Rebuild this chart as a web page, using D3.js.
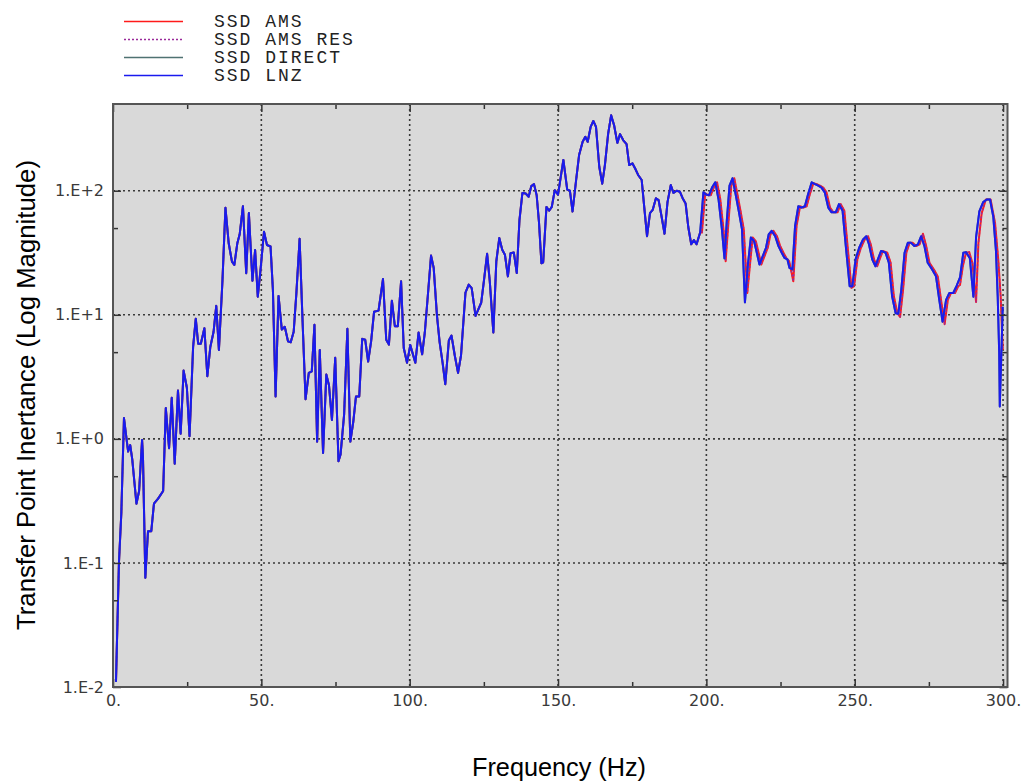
<!DOCTYPE html>
<html>
<head>
<meta charset="utf-8">
<script src="https://cdn.jsdelivr.net/npm/d3@7/dist/d3.min.js"></script>
<style>
  html, body { margin: 0; padding: 0; background: #ffffff; }
  svg { display: block; }
</style>
</head>
<body>
<svg id="chart" width="1026" height="783"></svg>
<script>
// ---------------- DATA ----------------
// Shared portion (all four solutions coincide below ~198 Hz)
const lowFreq = [1,2,2.8,3.7,5.1,5.8,6.5,7.9,8.8,9.8,10.1,10.9,11.8,12.9,13.8,15.2,16.9,17.8,18.9,19.8,20.8,21.9,22.8,23.8,24.9,25.8,27.0,27.9,28.7,29.6,30.8,31.8,32.8,33.9,34.8,35.7,36.9,37.9,39.0,40.1,40.9,41.9,42.7,43.8,44.9,45.8,47.0,47.9,48.8,49.7,50.9,51.9,53.1,53.9,54.8,55.8,56.9,57.9,59.0,59.9,60.9,61.8,62.9,63.8,64.9,66.0,67.0,67.9,68.8,69.7,70.8,71.9,72.8,73.8,74.9,76.0,76.7,77.9,79.0,80.0,81.0,81.9,83.0,84.0,85.0,86.0,87.0,88.0,89.5,91.0,92.1,93.0,94.0,95.0,96.0,97.1,98.0,99.1,100.2,101.9,103.0,104.2,105.1,106.1,107.2,108.1,109.2,110.1,111.1,112.0,113.2,114.1,115.2,116.3,117.3,118.8,119.9,120.9,122.2,123.1,124.1,125.0,126.1,127.0,128.2,129.2,130.2,131.2,132.1,133.1,134.0,135.1,136.1,137.0,138.0,139.1,140.1,141.0,141.9,142.8,143.6,144.4,145.0,146.1,147.0,147.9,148.9,150.0,151.8,153.1,154.0,154.9,156.1,157.1,158.3,159.2,160.0,161.0,161.9,162.8,163.9,164.9,165.8,166.9,167.9,168.9,170.0,170.9,172.0,173.1,174.0,175.1,176.0,177.0,178.2,179.1,180.0,181.0,181.9,183.0,183.9,184.9,185.9,186.9,188.0,188.9,190.0,191.1,192.0,193.0,193.9,194.9,195.8,196.7,197.9];
const lowMag = [0.011,0.1,0.25,1.47,0.79,0.89,0.68,0.30,0.38,0.98,0.72,0.076,0.18,0.18,0.30,0.33,0.38,1.77,0.84,2.14,0.63,2.45,1.10,3.55,2.58,1.05,5.5,9.3,5.85,5.85,7.8,3.2,5.5,7.3,11.8,5.2,19,73,37.7,26.8,25.2,37.7,44.5,75,21.6,66,18.8,33.3,14,22.7,46.8,36.5,35.5,15.8,2.2,14.2,7.6,8.0,6.1,6.0,7.3,14.8,41,10.2,2.09,3.4,3.5,8.3,0.95,5.2,0.77,3.3,2.7,1.42,4.5,0.66,0.75,1.57,7.7,0.95,1.38,2.2,2.2,6.4,6.3,4.2,6.1,10.6,10.8,19.4,6.3,5.75,13,8.1,8.1,18.6,5.4,4.1,5.7,4.1,7.2,4.8,7.2,14.1,30,23.8,9.8,6,4.1,2.76,6.2,6.8,4.7,3.4,4.7,15.1,17.5,16.4,9.8,11,12.5,18.6,31,18.6,7.2,27,41.5,33.4,30.5,20.4,31.4,31.8,21.7,58,96,95,89.5,109,113,92,55,26,26.5,74,69,74,101,93,177,102,100,68,122,194,248,272,248,327,365,327,156,114,161,289,405,337,243,286,255,237,161,166,151,134,122,72,43,66,70,87,84,62,45,81,111,96,100,98,87,79,51,37,40,37,46];

// SSD LNZ / SSD DIRECT above 198 Hz
const lnzTailFreq = [199.0,200.0,200.9,201.9,203.0,204.1,205.2,206.1,206.9,207.8,208.8,209.7,210.9,212.0,213.0,214.0,215.0,216.1,217.0,217.9,219.0,220.1,221.0,222.0,223.2,224.3,225.4,226.3,227.3,228.0,229.0,229.9,231.0,232.1,233.2,234.3,235.5,236.6,237.7,238.8,239.9,241.1,242.2,243.6,244.7,245.9,247.0,248.3,249.2,250.3,251.5,252.8,253.9,254.8,255.9,257.0,257.8,258.9,260.4,261.5,262.6,263.8,264.7,265.7,266.8,267.9,269.0,270.1,271.3,272.4,273.5,274.6,276.1,277.4,278.5,279.6,280.8,281.9,283.2,284.3,285.5,286.6,287.5,288.8,290.0,290.9,292.0,293.3,294.5,295.6,296.7,297.6,298.2,298.7,298.9,299.4,299.9];
const lnzTailMag = [97,93,92,106,117,85,50,28.5,58,110,126,98,69,49,12.6,25.4,42,39,31.6,25.4,29.7,34.7,44.5,47.5,43,35.8,31.6,28.8,28,23.9,23.2,52,75,73,75,94,117,113,110,106,97,73,67,67,78,69,35.8,17,17,28,34.7,40.5,43,37,28,24.6,28,32.7,31.6,26.3,14.1,10.3,10.2,15.9,31.6,38,38,35.8,37,43,35.8,26.3,23.2,20.4,13.2,8.8,13.2,15,15,17,20,31.6,32,28.6,14,42,68,81,85,85,62,33,14,4.9,1.82,4.6,11.6];

// SSD AMS / SSD AMS RES above 198 Hz
const amsTailFreq = [198.5,199.6,200.6,201.5,202.5,203.6,204.7,205.8,206.5,207.5,208.4,209.4,210.3,211.5,212.6,213.8,214.7,215.6,216.7,217.6,218.5,219.6,220.7,221.6,222.6,223.8,224.9,226.0,226.9,227.9,228.7,229.3,230.4,231.6,232.7,233.8,234.9,236.1,237.2,238.3,239.4,240.5,241.7,242.8,244.2,245.3,246.5,247.6,248.9,249.8,250.9,252.1,253.4,254.5,255.4,256.5,257.6,258.4,259.5,261.0,262.1,263.2,264.4,265.3,266.3,267.4,268.5,269.6,270.7,271.9,273.0,274.1,275.2,276.7,278.0,279.1,280.3,281.4,282.5,283.8,284.9,285.5,286.5,287.5,288.6,289.7,290.9,291.7,292.8,294.2,295.8,297.3,298.4,299.2,299.9];
const amsTailMag = [46,95,92,92,106,117,85,48,27,58,110,126,98,69,49,15,25.4,42,39,31.6,25.4,29.7,34.7,44.5,47.5,43,35.8,31.6,28.8,27,22,18.6,52,75,73,75,94,115,113,110,106,97,73,67,67,78,69,35.8,16.5,17,28,34.7,40.5,43,37,28,24.6,28,32.7,31.6,26.3,14.1,10.3,9.6,15.9,31.6,38,38,35.8,37,45,35.8,26.3,23.2,20.4,13.2,8.4,13.2,15,15,17,17.4,25,31.6,32,26,12.7,38,66,85,85,55,27.6,14,5.2];

const seriesNames = ["SSD AMS", "SSD AMS RES", "SSD DIRECT", "SSD LNZ"];
const seriesColors = ["#ff1a1a", "#9a2a9a", "#4f7272", "#1a1aee"];
const seriesDash = [null, "2,2", null, null];

const xMajorTicks = [0, 50, 100, 150, 200, 250, 300];
const xTickLabels = ["0.", "50.", "100.", "150.", "200.", "250.", "300."];
const xMinorTicks = [25, 75, 125, 175, 225, 275];
const yMajorTicks = [0.01, 0.1, 1, 10, 100];
const yTickLabels = ["1.E-2", "1.E-1", "1.E+0", "1.E+1", "1.E+2"];
const yMinorTicks = [0.05, 0.5, 5, 50];

const xTitle = "Frequency (Hz)";
const yTitle = "Transfer Point Inertance (Log Magnitude)";

// ---------------- BUILD ----------------
function zipPts(f, m) { return f.map((v, i) => ({ f: v, m: m[i] })); }
const lowPts = zipPts(lowFreq, lowMag);
const lnzPts = lowPts.concat(zipPts(lnzTailFreq, lnzTailMag));
const amsPts = lowPts.concat(zipPts(amsTailFreq, amsTailMag));
const seriesData = [amsPts, amsPts, lnzPts, lnzPts];

const L = 113, T = 104, R = 1007.5, B = 687;
const svg = d3.select("#chart");

const x = d3.scaleLinear().domain([0, 301.5]).range([L, R]);
const y = d3.scaleLog().domain([0.01, 500]).range([B, T]);

// plot background
svg.append("rect").attr("x", L).attr("y", T).attr("width", R - L).attr("height", B - T)
  .attr("fill", "#d9d9d9");

// grid
const grid = svg.append("g").attr("stroke", "#3a3a3a").attr("stroke-width", 1.6)
  .attr("stroke-dasharray", "2,3");
grid.selectAll("line.vx").data(xMajorTicks.filter(d => d > 0)).enter().append("line")
  .attr("x1", d => x(d)).attr("x2", d => x(d)).attr("y1", T).attr("y2", B);
grid.selectAll("line.hy").data(yMajorTicks.filter(d => d > 0.01)).enter().append("line")
  .attr("x1", L).attr("x2", R).attr("y1", d => y(d)).attr("y2", d => y(d));

// series lines
const clip = svg.append("clipPath").attr("id", "clip").append("rect")
  .attr("x", L).attr("y", T).attr("width", R - L).attr("height", B - T);
const line = d3.line().x(d => x(d.f)).y(d => y(d.m));
const lines = svg.append("g").attr("clip-path", "url(#clip)");
seriesData.forEach((pts, i) => {
  lines.append("path").datum(pts)
    .attr("fill", "none")
    .attr("stroke", seriesColors[i])
    .attr("stroke-width", i === 1 ? 1.4 : 2)
    .attr("stroke-linejoin", "round")
    .attr("stroke-dasharray", seriesDash[i])
    .attr("d", line);
});

// axes
const tickFont = "'DejaVu Sans', sans-serif";
function styleAxis(g) {
  g.select(".domain").remove();
  g.selectAll(".tick line").attr("stroke", "#333").attr("stroke-width", 1.5);
  g.selectAll(".tick text").attr("fill", "#3a3a3a").style("font-family", tickFont).style("font-size", "16px");
}
svg.append("g").attr("transform", `translate(0,${B})`)
  .call(d3.axisBottom(x).tickValues(xMajorTicks).tickSize(-8).tickPadding(8)
    .tickFormat((d, i) => xTickLabels[i])).call(styleAxis);
svg.append("g").attr("transform", `translate(0,${B})`)
  .call(d3.axisBottom(x).tickValues(xMinorTicks).tickSize(-5).tickFormat(""))
  .call(styleAxis);
svg.append("g").attr("transform", `translate(0,${T})`)
  .call(d3.axisTop(x).tickValues(xMajorTicks).tickSize(-8).tickFormat("")).call(styleAxis);
svg.append("g").attr("transform", `translate(0,${T})`)
  .call(d3.axisTop(x).tickValues(xMinorTicks).tickSize(-5).tickFormat("")).call(styleAxis);

svg.append("g").attr("transform", `translate(${L},0)`)
  .call(d3.axisLeft(y).tickValues(yMajorTicks).tickSize(-8).tickPadding(9)
    .tickFormat((d, i) => yTickLabels[i])).call(styleAxis);
svg.append("g").attr("transform", `translate(${L},0)`)
  .call(d3.axisLeft(y).tickValues(yMinorTicks).tickSize(-5).tickFormat("")).call(styleAxis);
svg.append("g").attr("transform", `translate(${R},0)`)
  .call(d3.axisRight(y).tickValues(yMajorTicks).tickSize(-8).tickFormat("")).call(styleAxis);
svg.append("g").attr("transform", `translate(${R},0)`)
  .call(d3.axisRight(y).tickValues(yMinorTicks).tickSize(-5).tickFormat("")).call(styleAxis);

// border
svg.append("rect").attr("x", L).attr("y", T).attr("width", R - L).attr("height", B - T)
  .attr("fill", "none").attr("stroke", "#555").attr("stroke-width", 2);

// titles
svg.append("text").attr("x", 559).attr("y", 776).attr("text-anchor", "middle")
  .style("font-family", "'Liberation Sans', Arial, sans-serif").style("font-size", "26px")
  .attr("fill", "#000").attr("textLength", 174).attr("lengthAdjust", "spacingAndGlyphs")
  .text(xTitle);
svg.append("text").attr("transform", "translate(35,395) rotate(-90)").attr("text-anchor", "middle")
  .style("font-family", "'Liberation Sans', Arial, sans-serif").style("font-size", "26px")
  .attr("fill", "#000").attr("textLength", 470).attr("lengthAdjust", "spacingAndGlyphs")
  .text(yTitle);

// legend
const legY = [21.5, 39.5, 57.5, 75.5];
const leg = svg.append("g");
seriesNames.forEach((name, i) => {
  leg.append("line").attr("x1", 124).attr("x2", 183).attr("y1", legY[i]).attr("y2", legY[i])
    .attr("stroke", seriesColors[i]).attr("stroke-width", i === 1 ? 1.3 : 1.4)
    .attr("stroke-dasharray", seriesDash[i]);
  leg.append("text").attr("x", 214).attr("y", legY[i] + 5.5)
    .style("font-family", "'Liberation Mono', 'Courier New', monospace").style("font-size", "18px")
    .style("letter-spacing", "2px").attr("fill", "#222").text(name);
});
</script>
</body>
</html>
